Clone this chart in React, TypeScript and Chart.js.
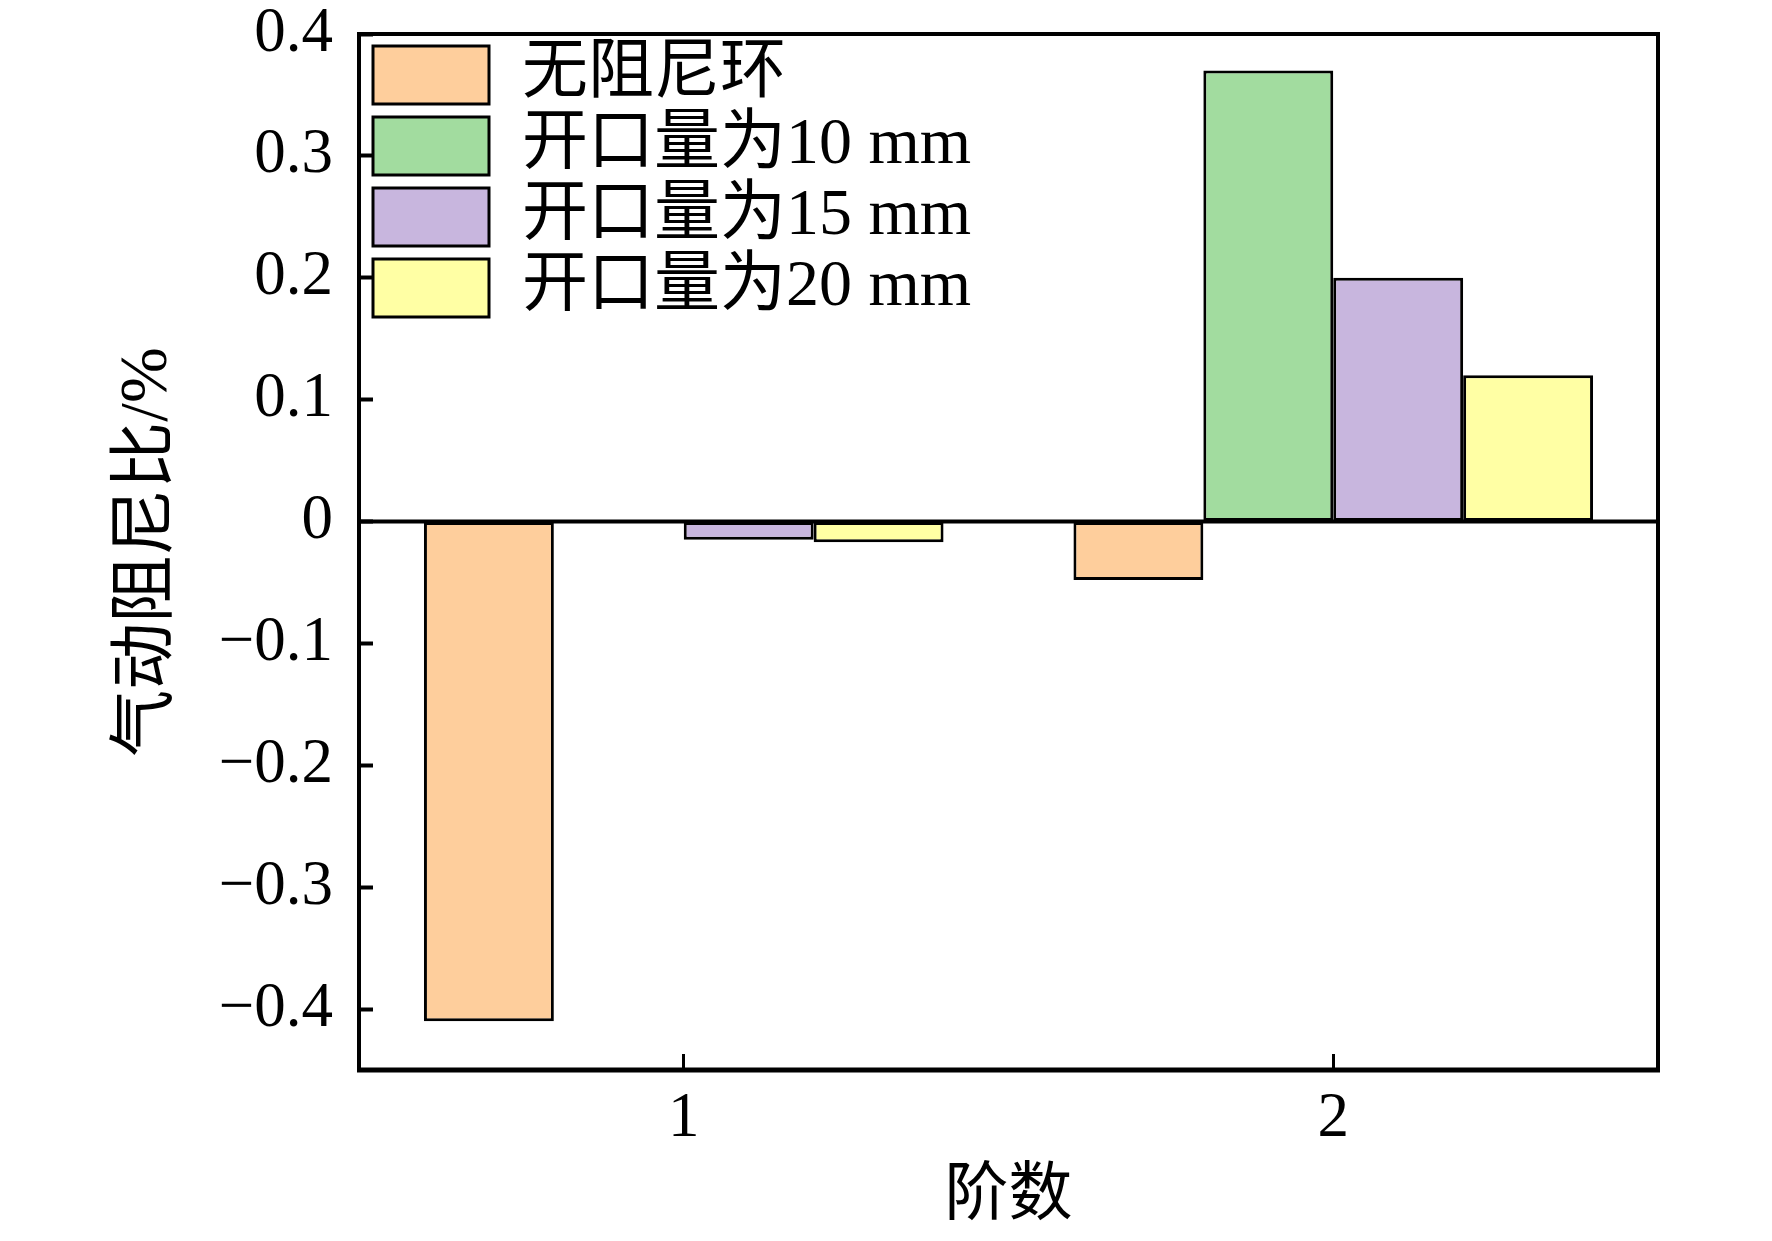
import React, { useEffect, useRef } from "react";
import { Chart, registerables } from "chart.js";

Chart.register(...registerables);

// data
const orders = ["1", "2"];
const noRing = [-0.41, -0.048];
const open10 = [0, 0.37];
const open15 = [-0.015, 0.2];
const open20 = [-0.017, 0.12];

const seriesNames = ["无阻尼环", "开口量为10 mm", "开口量为15 mm", "开口量为20 mm"];
const seriesColors = ["#FECE9C", "#A2DC9F", "#C8B6DE", "#FFFFA4"];

const yTicks = [-0.4, -0.3, -0.2, -0.1, 0, 0.1, 0.2, 0.3, 0.4];

const FONT = "'Liberation Serif', 'Times New Roman', 'Noto Sans CJK SC', serif";

// frame + zero line drawn above the bars
const framePlugin = {
  id: "frame",
  afterDatasetsDraw(chart: any) {
    const { ctx, chartArea, scales } = chart;
    const { left, right, top, bottom } = chartArea;
    ctx.save();
    ctx.strokeStyle = "#000";
    ctx.lineWidth = 4;
    ctx.beginPath();
    ctx.moveTo(left, bottom);
    ctx.lineTo(left, top);
    ctx.lineTo(right, top);
    ctx.lineTo(right, bottom);
    ctx.stroke();
    ctx.lineWidth = 5;
    ctx.beginPath();
    ctx.moveTo(left - 2, bottom);
    ctx.lineTo(right + 2, bottom);
    ctx.stroke();
    const y0 = scales.y.getPixelForValue(0);
    ctx.lineWidth = 4;
    ctx.beginPath();
    ctx.moveTo(left, y0);
    ctx.lineTo(right, y0);
    ctx.stroke();
    ctx.restore();
  },
};

// put the legend in the top-left corner of the plot
const legendPlace = {
  id: "legendPlace",
  afterLayout(chart: any) {
    const lg = chart.legend;
    const ca = chart.chartArea;
    if (!lg) return;
    lg.left = ca.left + 9;
    lg.top = ca.top + 3;
    lg.right = ca.right;
    lg.bottom = ca.bottom;
  },
};

export default function App() {
  const canvasRef = useRef<HTMLCanvasElement>(null);

  useEffect(() => {
    if (!canvasRef.current) return;
    const values = [noRing, open10, open15, open20];
    const chart = new Chart(canvasRef.current, {
      type: "bar",
      data: {
        labels: orders,
        datasets: values.map((d, i) => ({
          label: seriesNames[i],
          data: d,
          backgroundColor: seriesColors[i],
          borderColor: "#000",
          borderWidth: 3,
          borderSkipped: false,
          categoryPercentage: 0.8,
          barPercentage: 1.0,
        })),
      },
      options: {
        responsive: true,
        maintainAspectRatio: false,
        animation: false,
        layout: { padding: { top: 34, right: 114, left: 0, bottom: 0 } },
        plugins: {
          tooltip: { enabled: false },
          legend: {
            position: "chartArea",
            align: "start",
            labels: {
              color: "#000",
              boxWidth: 116,
              boxHeight: 58,
              padding: 5,
              font: { family: FONT, size: 66 },
            },
          },
        },
        scales: {
          x: {
            offset: true,
            grid: {
              offset: false,
              drawOnChartArea: false,
              drawTicks: true,
              tickLength: -16,
              tickColor: "#000",
              tickWidth: 3,
            },
            border: { display: false },
            ticks: {
              color: "#000",
              padding: 28,
              font: { family: FONT, size: 63 },
            },
            title: {
              display: true,
              text: "阶数",
              color: "#000",
              padding: { top: 0, bottom: 5 },
              font: { family: FONT, size: 64 },
            },
            afterFit(scale: any) {
              scale.height = 171;
              scale.paddingLeft = 0;
              scale.paddingRight = 0;
            },
          },
          y: {
            min: -0.45,
            max: 0.4,
            grid: {
              drawOnChartArea: false,
              drawTicks: true,
              tickLength: -14,
              tickColor: "#000",
              tickWidth: 4,
            },
            border: { display: false },
            afterBuildTicks(scale: any) {
              scale.ticks = yTicks.map((v) => ({ value: v }));
            },
            ticks: {
              color: "#000",
              padding: 40,
              font: { family: FONT, size: 63 },
              callback: (v: any) => {
                const n = Number(v);
                if (Math.abs(n) < 1e-9) return "0";
                return (n < 0 ? "\u2212" : "") + Math.abs(n).toFixed(1);
              },
            },
            title: {
              display: true,
              text: "气动阻尼比/%",
              color: "#000",
              padding: { top: 108, bottom: 0 },
              font: { family: FONT, size: 67 },
            },
            afterFit(scale: any) {
              scale.width = 359;
              scale.paddingTop = 0;
              scale.paddingBottom = 0;
            },
          },
        },
      },
      plugins: [framePlugin, legendPlace],
    } as any);
    return () => chart.destroy();
  }, []);

  return (
    <div style={{ position: "fixed", left: 0, top: 0, width: 1772, height: 1241, background: "#fff" }}>
      <canvas ref={canvasRef} />
    </div>
  );
}
